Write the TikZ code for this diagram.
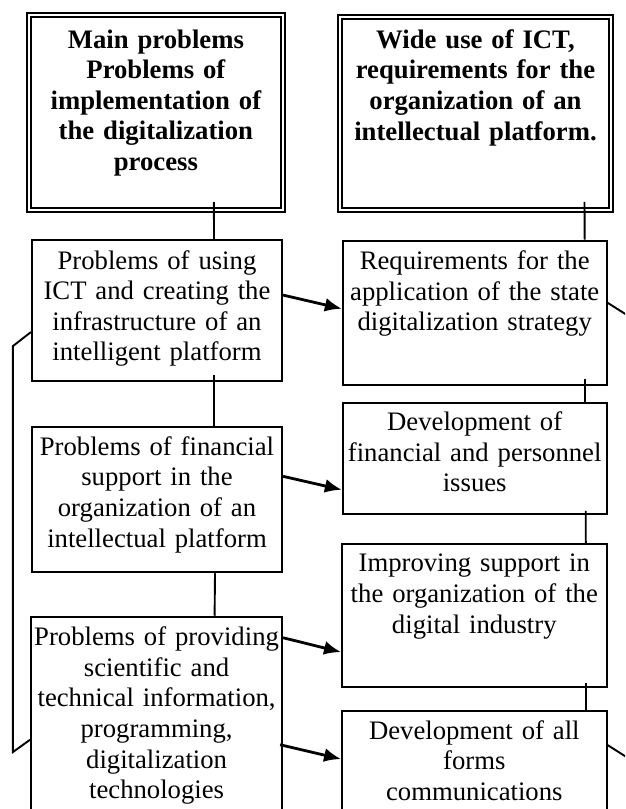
\documentclass[tikz,border=0pt]{standalone}
\usepackage{fontspec}
\setmainfont{Liberation Serif}
\usepackage{tikz}
\usetikzlibrary{calc}
\usetikzlibrary{arrows.meta}

\begin{document}
\begin{tikzpicture}[x=1pt,y=1pt,
		box/.style={draw=black,line width=1.9pt,rectangle,inner sep=0pt},
		topbox/.style={draw=black,line width=2pt,double,double distance=2.2pt,rectangle,inner sep=0pt},
		txt/.style={anchor=north,inner sep=0pt,align=center,text width=270pt,font=\fontsize{26.7}{30.6}\selectfont},
		toptxt/.style={txt,font=\fontsize{26.7}{30.6}\selectfont\bfseries},
		link/.style={line width=1.9pt,black},
		arr/.style={line width=2.8pt,black,-{Latex[length=17pt,width=14pt]}}]
			
			% 画布大小
			\useasboundingbox (0,0) rectangle (625,809);
			\clip (0,0) rectangle (625,809);
			
			% 绘制顶部的两个框
			\node[topbox,minimum width=253.8pt,minimum height=195.3pt] (tl) at (155.9,696.6) {};
			\node[topbox,minimum width=270.5pt,minimum height=193pt] (tr) at (475.5,695.5) {};
			\node[toptxt] (tltxt) at ($(tl.north)+(0,-15.6)$) {Main problems\\Problems of\\implementation of\\the digitalization\\process};
			\node[toptxt] (trtxt) at ($(tr.north)+(0,-13.3)$) {Wide use of ICT,\\requirements for the\\organization of an\\intellectual platform.};
			
			% 绘制左侧的框
			\node[box,minimum width=250.3pt,minimum height=140.7pt] (l1) at (157,498.6) {};
			\node[box,minimum width=250.3pt,minimum height=145pt] (l2) at (157,309.2) {};
			\node[box,minimum width=251.2pt,minimum height=240pt] (l3) at (156.6,72.3) {};
			\node[txt] (l1txt) at ($(l1.north)+(0,-11)$) {Problems of using\\ICT and creating the\\infrastructure of an\\intelligent platform};
			\node[txt] (l2txt) at ($(l2.north)+(0,-10)$) {Problems of financial\\support in the\\organization of an\\intellectual platform};
			\node[txt] (l3txt) at ($(l3.north)+(0,-11)$) {Problems of providing\\scientific and\\technical information,\\programming,\\digitalization\\technologies};
			
			% 绘制右侧的框
			\node[box,minimum width=263.8pt,minimum height=144pt] (r1) at (474.7,496.3) {};
			\node[box,minimum width=263.8pt,minimum height=111.3pt] (r2) at (474.7,350.6) {};
			\node[box,minimum width=264.6pt,minimum height=142.7pt] (r3) at (474.3,193.6) {};
			\node[box,minimum width=264.6pt,minimum height=140pt] (r4) at (474.3,28) {};
			\node[txt] (r1txt) at ($(r1.north)+(0,-11)$) {Requirements for the\\application of the state\\digitalization strategy};
			\node[txt] (r2txt) at ($(r2.north)+(0,-10)$) {Development of\\financial and personnel\\issues};
			\node[txt] (r3txt) at ($(r3.north)+(0,-11)$) {Improving support in\\the organization of the\\digital industry};
			\node[txt] (r4txt) at ($(r4.north)+(0,-10)$) {Development of all\\forms\\communications};
			
			% 绘制竖直连接线
			\draw[link] ([xshift=58pt,yshift=9pt]tl.south) -- ([xshift=57pt]l1.north);
			\draw[link] ([xshift=57pt,yshift=7pt]l1.south) -- ([xshift=57pt]l2.north);
			\draw[link] ([xshift=58pt]l2.south) -- ([xshift=58pt]l3.north);
			\draw[link] ([xshift=109pt,yshift=9pt]tr.south) -- ([xshift=110pt]r1.north);
			\draw[link] ([xshift=110pt,yshift=7pt]r1.south) -- ([xshift=110pt]r2.north);
			\draw[link] ([xshift=111pt,yshift=4pt]r2.south) -- ([xshift=111.5pt]r3.north);
			\draw[link] ([xshift=111.5pt,yshift=5pt]r3.south) -- ([xshift=111.5pt]r4.north);
			
			% 绘制箭头
			\draw[arr] ([yshift=-56pt]l1.north east) -- ([yshift=-69pt]r1.north west);
			\draw[arr] ([yshift=-50pt]l2.north east) -- ([yshift=-88pt]r2.north west);
			\draw[arr] ([yshift=-22pt]l3.north east) -- ([yshift=-109pt]r3.north west);
			\draw[arr] ([xshift=-3pt,yshift=-129pt]l3.north east) -- ([yshift=-49pt]r4.north west);
			
			% 绘制左侧括号和右侧斜线
			\draw[link] ([yshift=-93pt]l1.north west) -- ++(-18,-14) -- ++(0,-406) -- ([yshift=-124pt]l3.north west);
			\draw[link] ([yshift=-63pt]r1.north east) -- ++(30,-19);
			\draw[link] ([yshift=-35pt]r4.north east) -- ++(30,-19);
			
		\end{tikzpicture}
\end{document}
